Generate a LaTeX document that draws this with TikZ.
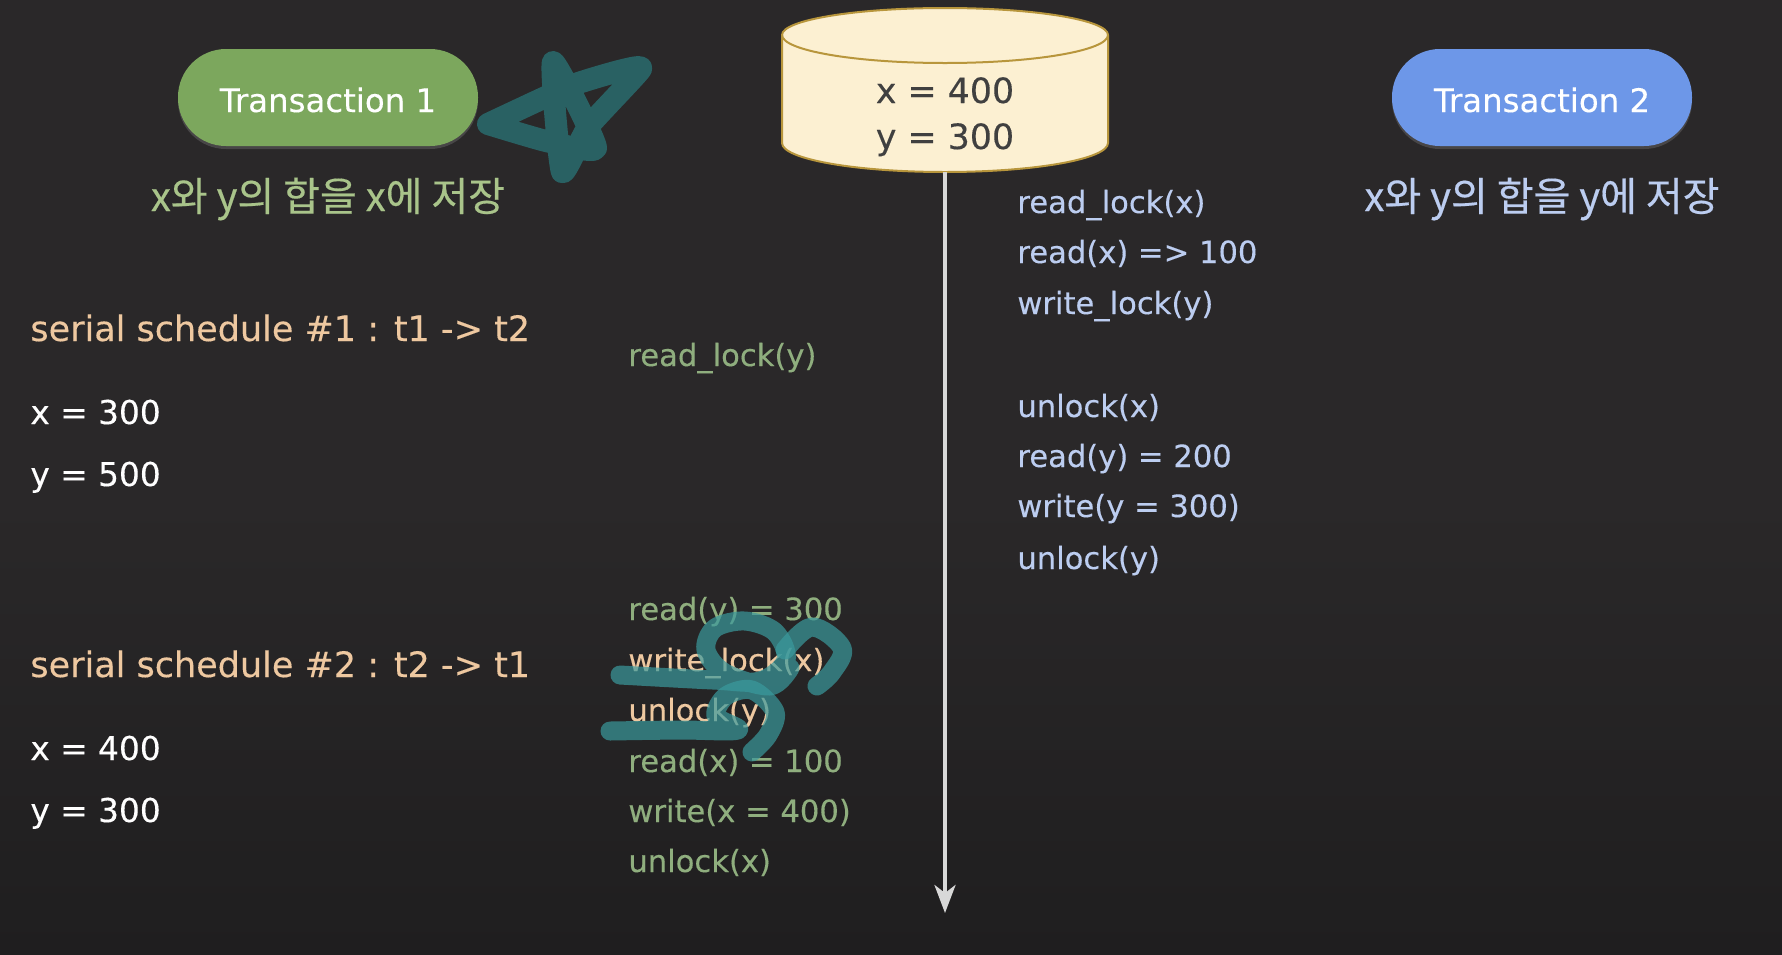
\documentclass[tikz,border=0pt]{standalone}
\usepackage{fontspec}
\setmainfont[FakeBold=0.25]{DejaVu Sans}
\newfontfamily\krfont[FakeBold=0.4]{Noto Sans CJK KR}
\usetikzlibrary{arrows.meta,shadows}
\definecolor{bgc}{HTML}{2A2829}
\definecolor{bgd}{HTML}{1F1E1F}
\definecolor{greenpill}{HTML}{7CA75D}
\definecolor{bluepill}{HTML}{6D97E8}
\definecolor{tonegreen}{HTML}{A9C48A}
\definecolor{tgreen}{HTML}{8FAE7E}
\definecolor{tblue}{HTML}{BCCDF0}
\definecolor{peach}{HTML}{EEC8A0}
\definecolor{dbfill}{HTML}{FCF0D2}
\definecolor{dbline}{HTML}{B8963C}
\definecolor{inkc}{HTML}{3A9A9D}
\definecolor{axisc}{HTML}{D8D8D8}
\tikzset{
  pill/.style={minimum width=150pt,minimum height=48.5pt,rounded corners=24pt,inner sep=0pt,drop shadow={opacity=0.35,shadow xshift=0pt,shadow yshift=-1.5pt}},
  pilltext/.style={anchor=base,inner sep=0pt,text=white,font=\fontsize{16.2}{18}\selectfont},
  ktext/.style={font=\krfont\fontsize{20}{22}\selectfont,anchor=base},
  line1/.style={anchor=base west,inner sep=0pt,font=\fontsize{15.3}{16}\selectfont},
  t1text/.style={line1,text=tgreen},
  t1hit/.style={line1,text=peach},
  t2text/.style={line1,text=tblue},
  heading/.style={anchor=base west,inner sep=0pt,text=peach,font=\fontsize{17.5}{18}\selectfont},
  value/.style={anchor=base west,inner sep=0pt,text=white,font=\fontsize{16.4}{18}\selectfont},
  dbtext/.style={anchor=base,inner sep=0pt,text=black!75,font=\fontsize{17.4}{20}\selectfont},
  ink/.style={draw=inkc,draw opacity=0.7,line width=9.5pt,line cap=round,line join=round,fill=none},
}
\begin{document}
\begin{tikzpicture}[x=0.5pt,y=-0.5pt]
\useasboundingbox (0,0) rectangle (1782,954);
\fill[bgc] (0,0) rectangle (1782,500);
\shade[top color=bgc,bottom color=bgd] (0,500) rectangle (1782,954);
% pills
\node[pill,fill=greenpill] (t1) at (328,97.5) {};
\node[pill,fill=bluepill] (t2) at (1542,97.5) {};
\node[pilltext] (t1l) at (328,112) {Transaction 1};
\node[pilltext] (t2l) at (1542,112) {Transaction 2};
\node[ktext,text=tonegreen] (k1) at (328,211) {x와 y의 합을 x에 저장};
\node[ktext,text=tblue] (k2) at (1542,211) {x와 y의 합을 y에 저장};
% database
\fill[dbfill] (782,35) -- (782,143) arc[start angle=180,end angle=0,x radius=163,y radius=29] -- (1108,35) arc[start angle=0,end angle=-180,x radius=163,y radius=27] -- cycle;
\draw[dbline,line width=1pt] (782,35) -- (782,143) arc[start angle=180,end angle=0,x radius=163,y radius=29] -- (1108,35) arc[start angle=0,end angle=-180,x radius=163,y radius=27];
\draw[dbline,line width=1pt] (782,35) arc[start angle=180,end angle=0,x radius=163,y radius=28];
\node[inner sep=0pt,minimum width=163pt,minimum height=81.5pt] (db) at (945,90.5) {};
\node[dbtext] (dbx) at (945,103) {x = 400};
\node[dbtext] (dby) at (945,149) {y = 300};
% time axis
\coordinate (axisend) at (945,913);
\draw[axisc,line width=2pt,-{Stealth[length=14pt,width=10.5pt,inset=4pt]}] (db.south) -- (axisend);
% left column
\node[heading] (s1) at (30,341) {serial schedule \#1 : t1 -> t2};
\node[value] (s1x) at (30,424) {x = 300};
\node[value] (s1y) at (30,486) {y = 500};
\node[heading] (s2) at (30,677) {serial schedule \#2 : t2 -> t1};
\node[value] (s2x) at (30,760) {x = 400};
\node[value] (s2y) at (30,822) {y = 300};
% transaction 1
\node[t1text] (a1) at (628,366) {read\_lock(y)};
\node[t1text] (a2) at (628,620) {read(y) = 300};
\node[t1hit] (a3) at (628,671) {write\_lock(x)};
\node[t1hit] (a4) at (628,721) {unlock(y)};
\node[t1text] (a5) at (628,772) {read(x) = 100};
\node[t1text] (a6) at (628,822) {write(x = 400)};
\node[t1text] (a7) at (628,872) {unlock(x)};
% transaction 2
\node[t2text] (b1) at (1017,213) {read\_lock(x)};
\node[t2text] (b2) at (1017,263) {read(x) => 100};
\node[t2text] (b3) at (1017,314) {write\_lock(y)};
\node[t2text] (b4) at (1017,417) {unlock(x)};
\node[t2text] (b5) at (1017,467) {read(y) = 200};
\node[t2text] (b6) at (1017,517) {write(y = 300)};
\node[t2text] (b7) at (1017,569) {unlock(y)};
% pen marks
\draw[ink,line width=11pt,draw=inkc!70!black,draw opacity=0.85] plot[smooth,tension=0.3] coordinates {(488,124) (570,86) (619,71) (641,69) (588,127) (562,172) (553,62) (596,148) (546,141) (488,124)};
\draw[ink] plot[smooth,tension=0.55] coordinates {(620,675) (713,680) (760,681) (786,660) (775,632) (745,621) (715,628) (706,650) (725,673) (770,686) (790,668)};
\draw[ink] plot[smooth,tension=0.6] coordinates {(785,650) (812,627) (842,648) (832,672) (817,686)};
\draw[ink] plot[smooth,tension=0.55] coordinates {(610,731) (680,730) (738,730) (716,716) (726,696) (752,690) (775,712) (768,735) (752,752)};
\end{tikzpicture}
\end{document}
